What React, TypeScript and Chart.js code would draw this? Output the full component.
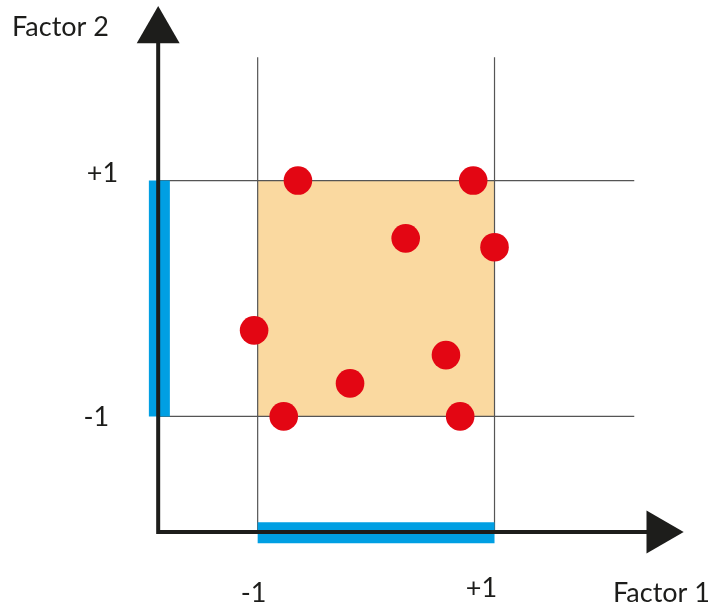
import React, { useEffect, useRef } from "react";
import { Chart, registerables } from "chart.js";

Chart.register(...registerables);

// Experimental design points (Factor 1, Factor 2)
const factor1Values = [-0.66, 0.82, 0.25, 1.0, -1.03, 0.59, -0.22, -0.78, 0.71];
const factor2Values = [1.0, 1.0, 0.51, 0.435, -0.27, -0.48, -0.72, -1.0, -1.0];

// Design region limits
const regionLow = -1;
const regionHigh = 1;

// Axis geometry (data units)
const xMin = -1.85;
const xMax = 2.6;
const yMin = -1.98;
const yMax = 2.48;
const axisX = -1.84;
const axisY = -1.98;
const yArrow = 2.27;
const xArrow = 2.388;
const gridTop = 2.046;
const gridRight = 2.18;

// Labels
const yTickLabels = ["+1", "-1"];
const xTickLabels = ["-1", "+1"];
const xTitle = "Factor 1";
const yTitle = "Factor 2";

const ink = "#1d1d1b";
const blue = "#009FE3";
const red = "#E30613";
const orange = "#FAD9A0";
const gridGray = "#555555";

const textPlugin = {
  id: "labels",
  afterDraw(chart: any) {
    const { ctx, scales } = chart;
    const xs = scales.x;
    const ys = scales.y;
    const ax = xs.getPixelForValue(axisX);
    ctx.save();
    ctx.fillStyle = ink;
    ctx.font = "27px Lato";
    ctx.textBaseline = "alphabetic";
    // titles
    ctx.textAlign = "left";
    ctx.fillText(yTitle, 12, 36);
    ctx.fillText(xTitle, 613, 602);
    // y tick labels
    ctx.textAlign = "right";
    ctx.fillText(yTickLabels[0], ax - 40, ys.getPixelForValue(regionHigh) + 1);
    ctx.fillText(yTickLabels[1], ax - 49, ys.getPixelForValue(regionLow) + 10);
    // x tick labels
    ctx.textAlign = "center";
    ctx.fillText(xTickLabels[0], xs.getPixelForValue(regionLow) - 4, 602);
    ctx.fillText(xTickLabels[1], xs.getPixelForValue(regionHigh) - 13, 597);
    ctx.restore();
  },
};

function lineDs(data: { x: number; y: number }[], color: string, width: number, order: number, extra: any = {}) {
  return {
    data,
    borderColor: color,
    borderWidth: width,
    pointRadius: 0,
    pointHoverRadius: 0,
    tension: 0,
    fill: false,
    clip: false,
    order,
    borderCapStyle: "butt",
    borderJoinStyle: "miter",
    ...extra,
  };
}

export default function App() {
  const ref = useRef<HTMLCanvasElement | null>(null);

  useEffect(() => {
    if (!ref.current) return;
    const points = factor1Values.map((x, i) => ({ x, y: factor2Values[i] }));
    const datasets: any[] = [
      // design region fill
      lineDs(
        [
          { x: regionLow, y: regionHigh },
          { x: regionHigh, y: regionHigh },
        ],
        "rgba(0,0,0,0)",
        0,
        6,
        { fill: { value: regionLow }, backgroundColor: orange }
      ),
      // grid lines
      lineDs([{ x: regionLow, y: axisY }, { x: regionLow, y: gridTop }], gridGray, 1.2, 5),
      lineDs([{ x: regionHigh, y: axisY }, { x: regionHigh, y: gridTop }], gridGray, 1.2, 5),
      lineDs([{ x: axisX, y: regionLow }, { x: gridRight, y: regionLow }], gridGray, 1.2, 5),
      lineDs([{ x: axisX, y: regionHigh }, { x: gridRight, y: regionHigh }], gridGray, 1.2, 5),
      // blue range bars
      lineDs([{ x: axisX + 0.01, y: regionLow }, { x: axisX + 0.01, y: regionHigh }], blue, 21, 4),
      lineDs([{ x: regionLow, y: axisY - 0.006 }, { x: regionHigh, y: axisY - 0.006 }], blue, 21, 4),
      // axes
      lineDs(
        [
          { x: axisX, y: yArrow },
          { x: axisX, y: axisY },
          { x: xArrow, y: axisY },
        ],
        ink,
        4,
        3
      ),
      // arrow heads
      {
        data: [{ x: axisX, y: yArrow }],
        showLine: false,
        pointStyle: "triangle",
        pointRadius: 24.8,
        pointHoverRadius: 24.8,
        pointRotation: 0,
        pointBackgroundColor: ink,
        pointBorderWidth: 0,
        pointBorderColor: ink,
        clip: false,
        order: 2,
      },
      {
        data: [{ x: xArrow, y: axisY }],
        showLine: false,
        pointStyle: "triangle",
        pointRadius: 24.8,
        pointHoverRadius: 24.8,
        pointRotation: 90,
        pointBackgroundColor: ink,
        pointBorderWidth: 0,
        pointBorderColor: ink,
        clip: false,
        order: 2,
      },
      // design points
      {
        data: points,
        showLine: false,
        pointStyle: "circle",
        pointRadius: 14.3,
        pointHoverRadius: 14.3,
        pointBackgroundColor: red,
        pointBorderWidth: 0,
        pointBorderColor: red,
        clip: false,
        order: 1,
      },
    ];

    const chart = new Chart(ref.current, {
      type: "line",
      data: { datasets },
      options: {
        animation: false,
        responsive: false,
        events: [],
        layout: { autoPadding: false, padding: { left: 157, right: 29, top: 6, bottom: 75 } },
        plugins: { legend: { display: false }, tooltip: { enabled: false } },
        scales: {
          x: { type: "linear", min: xMin, max: xMax, display: false },
          y: { type: "linear", min: yMin, max: yMax, display: false },
        },
      } as any,
      plugins: [textPlugin],
    });
    return () => chart.destroy();
  }, []);

  return (
    <div style={{ position: "absolute", left: 0, top: 0, width: 713, height: 607, background: "#fff" }}>
      <canvas ref={ref} width={713} height={607} />
    </div>
  );
}
